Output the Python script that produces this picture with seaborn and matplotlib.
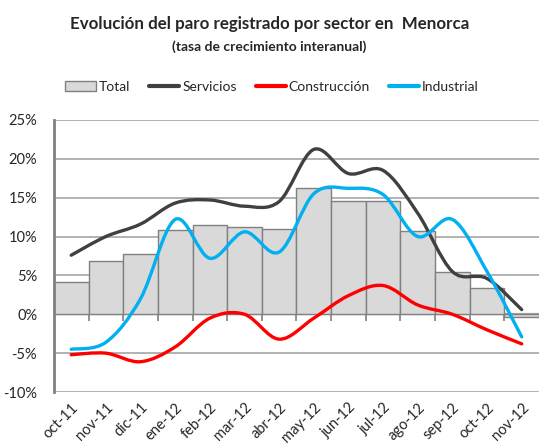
import numpy as np
import pandas as pd
import matplotlib
matplotlib.use("Agg")
import matplotlib.pyplot as plt
import seaborn as sns
from matplotlib.path import Path
from matplotlib.patches import PathPatch, Patch
from matplotlib.lines import Line2D

meses = ["oct-11", "nov-11", "dic-11", "ene-12", "feb-12", "mar-12", "abr-12",
         "may-12", "jun-12", "jul-12", "ago-12", "sep-12", "oct-12", "nov-12"]
total = [4.1, 6.8, 7.7, 10.9, 11.5, 11.2, 11.0, 16.2, 14.6, 14.6, 10.7, 5.4, 3.4, -0.4]
servicios = [7.6, 10.0, 11.6, 14.3, 14.7, 13.9, 14.5, 21.2, 18.1, 18.5, 13.0, 5.5, 4.6, 0.6]
construccion = [-5.2, -5.0, -6.1, -4.2, -0.5, 0.0, -3.2, -0.5, 2.4, 3.7, 1.2, 0.0, -2.0, -3.8]
industrial = [-4.5, -3.6, 2.0, 12.2, 7.2, 10.6, 8.0, 15.5, 16.2, 15.4, 10.0, 12.2, 5.5, -2.9]

df = pd.DataFrame({"mes": meses, "total": total})

sns.set_style("white")
plt.rcParams["font.family"] = ["Lato", "DejaVu Sans"]

fig = plt.figure(figsize=(5.39, 4.44), dpi=100)
ax = fig.add_axes([0.1, 0.117, 0.9, 0.613])

grid_c = "#A6A6A6"
for v in np.arange(-10, 26, 5):
    ax.axhline(v, color=grid_c, lw=1.2 if v != 0 else 1.6, zorder=0)

sns.barplot(data=df, x="mes", y="total", color="#D9D9D9", edgecolor="#808080",
            linewidth=1, width=1.0, saturation=1, ax=ax, zorder=2)


# smoothed line like Excel's "smoothed line" option (Catmull-Rom as Bezier)
def smooth_path(y):
    x = np.arange(len(y), dtype=float)
    y = np.asarray(y, dtype=float)
    verts = [(x[0], y[0])]
    codes = [Path.MOVETO]
    n = len(y)
    for i in range(n - 1):
        p0 = (x[max(i - 1, 0)], y[max(i - 1, 0)])
        p1 = (x[i], y[i])
        p2 = (x[i + 1], y[i + 1])
        p3 = (x[min(i + 2, n - 1)], y[min(i + 2, n - 1)])
        c1 = (p1[0] + (p2[0] - p0[0]) / 6, p1[1] + (p2[1] - p0[1]) / 6)
        c2 = (p2[0] - (p3[0] - p1[0]) / 6, p2[1] - (p3[1] - p1[1]) / 6)
        verts += [c1, c2, p2]
        codes += [Path.CURVE4] * 3
    return Path(verts, codes)


series = [(servicios, "#404040"), (construccion, "#FF0000"), (industrial, "#00B0F0")]
for vals, col in series:
    ax.add_patch(PathPatch(smooth_path(vals), facecolor="none", edgecolor=col,
                           lw=2.4, capstyle="round", zorder=3))

ax.set_xlim(-0.5, len(meses) - 0.5)
ax.set_ylim(-10, 25)
ax.set_yticks(np.arange(-10, 26, 5))
ax.set_yticklabels([f"{v}%" for v in range(-10, 26, 5)], fontsize=10.5)
ax.set_xlabel("")
ax.set_ylabel("")
ax.set_xticks(range(len(meses)))
ax.set_xticklabels(meses, rotation=45, ha="right", rotation_mode="anchor", fontsize=10.5)
ax.tick_params(axis="x", length=0, pad=6)
ax.tick_params(axis="y", length=0, pad=12)

for s in ["top", "right", "bottom"]:
    ax.spines[s].set_visible(False)
ax.spines["left"].set_color("#808080")
ax.spines["left"].set_linewidth(2)
ax.spines["left"].set_zorder(4)

# zero axis with tick marks between categories
sec = ax.secondary_xaxis(10 / 35)
sec.set_xticks(np.arange(0.5, len(meses) - 0.5, 1))
sec.set_xticklabels([])
sec.tick_params(length=5, width=1.2, color="#808080", direction="out")
sec.spines["bottom"].set_visible(False)

fig.text(0.5, 0.946, "Evolución del paro registrado por sector en  Menorca",
         ha="center", va="center", fontsize=12.2, fontweight="bold")
fig.text(0.5, 0.894, "(tasa de crecimiento interanual)",
         ha="center", va="center", fontsize=10, fontweight="bold")

handles = [Patch(facecolor="#D9D9D9", edgecolor="#808080", label="Total"),
           Line2D([], [], color="#404040", lw=3, label="Servicios"),
           Line2D([], [], color="#FF0000", lw=3, label="Construcción"),
           Line2D([], [], color="#00B0F0", lw=3, label="Industrial")]
fig.legend(handles=handles, loc="center", bbox_to_anchor=(0.505, 0.804), ncol=4,
           frameon=False, fontsize=10, handlelength=2.2, handletextpad=0.2,
           columnspacing=1.35, handleheight=0.7)

fig.savefig("out.png", dpi=100)
